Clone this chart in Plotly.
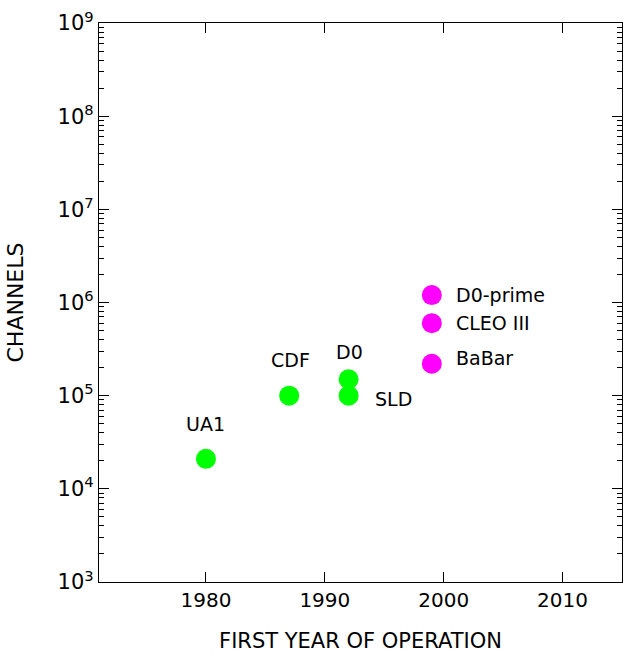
import math
import plotly.graph_objects as go

# ---- data ----
green_names = ["UA1", "CDF", "D0", "SLD"]
green_years = [1980, 1987, 1992, 1992]
green_channels = [2.1e4, 1.0e5, 1.5e5, 1.0e5]

magenta_names = ["D0-prime", "CLEO III", "BaBar"]
magenta_years = [1999, 1999, 1999]
magenta_channels = [1.2e6, 6.0e5, 2.2e5]

x_ticks = [1980, 1990, 2000, 2010]
y_tick_exps = [3, 4, 5, 6, 7, 8, 9]

FONT = "DejaVu Sans"

fig = go.Figure()
fig.add_trace(go.Scatter(x=green_years, y=green_channels, mode="markers",
                         marker=dict(color="#00ff00", size=20, line=dict(width=0)),
                         hoverinfo="skip", showlegend=False))
fig.add_trace(go.Scatter(x=magenta_years, y=magenta_channels, mode="markers",
                         marker=dict(color="#ff00ff", size=20, line=dict(width=0)),
                         hoverinfo="skip", showlegend=False))

# label placement styles
green_label_style = {
    "UA1": dict(xanchor="center", yanchor="middle", xshift=0, yshift=35),
    "CDF": dict(xanchor="center", yanchor="middle", xshift=1, yshift=36),
    "D0": dict(xanchor="center", yanchor="middle", xshift=1, yshift=27),
    "SLD": dict(xanchor="left", yanchor="middle", xshift=24, yshift=-3),
}
magenta_label_style = {
    "D0-prime": dict(xanchor="left", yanchor="middle", xshift=22, yshift=0),
    "CLEO III": dict(xanchor="left", yanchor="middle", xshift=22, yshift=0),
    "BaBar": dict(xanchor="left", yanchor="middle", xshift=22, yshift=6),
}

for n, x, y in zip(green_names, green_years, green_channels):
    fig.add_annotation(x=x, y=math.log10(y), text=n, showarrow=False,
                       font=dict(family=FONT, size=19, color="black"),
                       **green_label_style[n])
for n, x, y in zip(magenta_names, magenta_years, magenta_channels):
    fig.add_annotation(x=x, y=math.log10(y), text=n, showarrow=False,
                       font=dict(family=FONT, size=19, color="black"),
                       **magenta_label_style[n])

minor_vals = [m * 10 ** e for e in y_tick_exps[:-1] for m in range(2, 10)]

fig.update_xaxes(
    range=[1971, 2015], tickvals=x_ticks, ticktext=[str(v) for v in x_ticks],
    ticks="inside", ticklen=10, tickwidth=1.3, tickcolor="black",
    showline=True, linecolor="black", linewidth=1.3, mirror="ticks",
    showgrid=False, zeroline=False,
    tickfont=dict(family=FONT, size=20, color="black"),
    title=dict(text="FIRST YEAR OF OPERATION", font=dict(family=FONT, size=21, color="black"),
               standoff=22),
)
fig.update_yaxes(
    type="log", range=[3, 9],
    tickvals=[10 ** e for e in y_tick_exps],
    ticktext=[f"10<sup>{e}</sup>" for e in y_tick_exps],
    ticks="inside", ticklen=10, tickwidth=1.3, tickcolor="black",
    minor=dict(tickvals=minor_vals, ticks="inside", ticklen=5, tickwidth=1.1, tickcolor="black",
               showgrid=False),
    showline=True, linecolor="black", linewidth=1.3, mirror="ticks",
    showgrid=False, zeroline=False,
    tickfont=dict(family=FONT, size=21, color="black"),
    title=dict(text="CHANNELS", font=dict(family=FONT, size=22, color="black"), standoff=27),
)

fig.update_layout(
    width=623, height=655,
    margin=dict(l=99, r=1, t=23, b=73),
    paper_bgcolor="white", plot_bgcolor="white",
    showlegend=False,
)

fig.write_html("out.html")
